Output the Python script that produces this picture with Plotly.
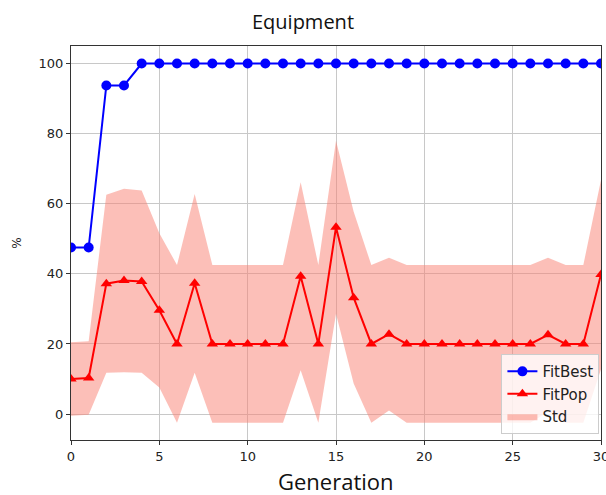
import plotly.graph_objects as go

generations = list(range(31))
fit_best = [47.5, 47.5, 93.75, 93.75] + [100.0] * 27
fit_pop = [10.0, 10.3, 37.2, 38.1, 37.8, 29.6, 20.0, 37.3, 20.0, 20.0,
           20.0, 20.0, 20.0, 39.3, 20.0, 53.3, 33.2, 20.0, 22.8, 20.0,
           20.0, 20.0, 20.0, 20.0, 20.0, 20.0, 20.0, 22.6, 20.0, 20.0, 39.8]
fit_std = [10.5, 10.5, 25.4, 26.2, 26.0, 22.0, 22.5, 25.5, 22.5, 22.5,
           22.5, 22.5, 22.5, 26.8, 22.5, 24.7, 24.5, 22.5, 21.8, 22.5,
           22.5, 22.5, 22.5, 22.5, 22.5, 22.5, 22.5, 22.0, 22.5, 22.5, 27.0]

upper = [m + s for m, s in zip(fit_pop, fit_std)]
lower = [m - s for m, s in zip(fit_pop, fit_std)]

fig = go.Figure()
fig.add_trace(go.Scatter(
    x=generations + generations[::-1], y=upper + lower[::-1],
    fill="toself", fillcolor="rgba(250,128,114,0.5)", line=dict(width=0),
    mode="lines", name="Std", legendrank=3, hoverinfo="skip"))
fig.add_trace(go.Scatter(
    x=generations, y=fit_best, mode="lines+markers", name="FitBest",
    line=dict(color="#0000ff", width=2), marker=dict(symbol="circle", size=10, color="#0000ff"),
    legendrank=1))
fig.add_trace(go.Scatter(
    x=generations, y=fit_pop, mode="lines+markers", name="FitPop",
    line=dict(color="#ff0000", width=2), marker=dict(symbol="triangle-up", size=10, color="#ff0000"),
    legendrank=2))

axis_common = dict(showline=True, linecolor="#333333", linewidth=1, mirror=True,
                   showgrid=True, gridcolor="#c8c8c8", gridwidth=1,
                   ticks="outside", ticklen=4, tickcolor="#333333",
                   tickfont=dict(family="DejaVu Sans", size=13, color="#222222"),
                   ticklabeloverflow="allow", automargin=False,
                   zeroline=False)

fig.update_layout(
    width=606, height=495,
    margin=dict(l=71, r=5, t=46, b=55),
    paper_bgcolor="white", plot_bgcolor="white",
    title=dict(text="Equipment", x=0.5, xanchor="center", y=0.955, yanchor="middle",
               font=dict(family="Open Sans", size=20, color="#111111")),
    xaxis=dict(range=[0, 30], tickvals=[0, 5, 10, 15, 20, 25, 30], **axis_common),
    yaxis=dict(range=[-7.4, 105.0], tickvals=[0, 20, 40, 60, 80, 100],
               title=dict(text="%", font=dict(family="DejaVu Sans", size=12, color="#222222"), standoff=14),
               **axis_common),
    legend=dict(x=0.997, y=0.015, xanchor="right", yanchor="bottom",
                bgcolor="rgba(255,255,255,0.8)", bordercolor="#cccccc", borderwidth=1,
                font=dict(family="DejaVu Sans", size=15, color="#222222"),
                tracegroupgap=0, itemwidth=30),
    showlegend=True,
    annotations=[dict(text="Generation", xref="paper", yref="paper", x=0.5, y=-0.104,
                      xanchor="center", yanchor="middle", showarrow=False,
                      font=dict(family="Open Sans", size=22, color="#111111"))],
)

fig.write_html("out.html", config={"displayModeBar": False},
               post_script="document.body.style.margin='0';document.body.style.overflow='hidden';")
